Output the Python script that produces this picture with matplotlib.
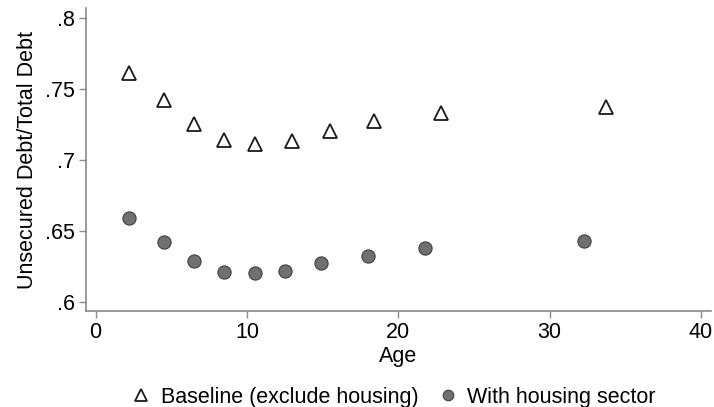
import numpy as np
import matplotlib.pyplot as plt

plt.rcParams['font.family'] = ['Liberation Sans', 'DejaVu Sans']

# datos
edad_base = [2.2, 4.5, 6.5, 8.5, 10.5, 13.0, 15.5, 18.4, 22.8, 33.7]
ratio_base = [0.761, 0.742, 0.725, 0.714, 0.711, 0.713, 0.720, 0.727, 0.733, 0.737]
edad_viv = [2.2, 4.5, 6.5, 8.5, 10.5, 12.5, 14.9, 18.0, 21.8, 32.3]
ratio_viv = [0.659, 0.642, 0.629, 0.621, 0.620, 0.622, 0.627, 0.632, 0.638, 0.643]
xticks = [0, 10, 20, 30, 40]
yticks = [0.6, 0.65, 0.7, 0.75, 0.8]
ytick_labels = ['.6', '.65', '.7', '.75', '.8']

fig = plt.figure(figsize=(7.14, 4.07), dpi=100)
ax = fig.add_axes([0.1204, 0.2359, 0.8754, 0.7444])

ax.plot(edad_base, ratio_base, linestyle='none', marker='^', markersize=10,
        markerfacecolor='white', markeredgecolor='#1a1a1a', markeredgewidth=1.3,
        label='Baseline (exclude housing)')
ax.plot(edad_viv, ratio_viv, linestyle='none', marker='o', markersize=9.5,
        markerfacecolor='#707070', markeredgecolor='#404040', markeredgewidth=0.8,
        label='With housing sector')

ax.set_xlim(-0.64, 40.67)
ax.set_ylim(0.5935, 0.8068)
ax.set_xticks(xticks)
ax.set_yticks(yticks)
ax.set_yticklabels(ytick_labels)
ax.tick_params(labelsize=15.5, color='#8a8a8a', length=5, width=1, pad=3)
for s in ['top', 'right']:
    ax.spines[s].set_visible(False)
for s in ['left', 'bottom']:
    ax.spines[s].set_color('#8a8a8a')
    ax.spines[s].set_linewidth(1.2)

ax.set_xlabel('Age', fontsize=15.5, labelpad=2)
ax.set_ylabel('Unsecured Debt/Total Debt', fontsize=15.5, labelpad=5)

ax.legend(loc='upper center', bbox_to_anchor=(0.493, -0.2), ncol=2, frameon=False,
          fontsize=15.5, handlelength=0.8, handletextpad=0.5, columnspacing=0.95,
          markerscale=0.8, borderpad=0.2)

plt.savefig('out.png', dpi=100)
